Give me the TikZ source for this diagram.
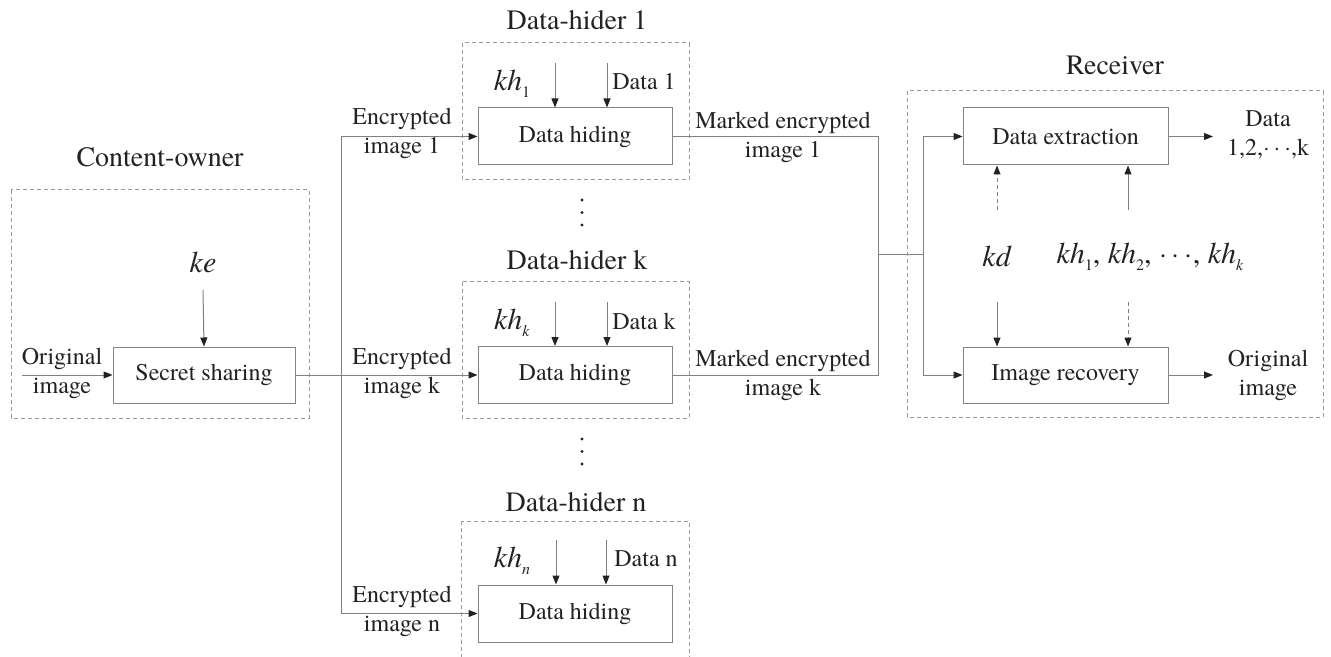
\documentclass[tikz,border=0pt]{standalone}
\usepackage{fontspec}
\setmainfont{texgyretermes}[Extension=.otf, UprightFont=*-regular, ItalicFont=*-italic, BoldFont=*-bold, BoldItalicFont=*-bolditalic]
\usetikzlibrary{arrows.meta}
\definecolor{boxgray}{HTML}{858585}
\definecolor{dashgray}{HTML}{9A9A9A}
\definecolor{linegray}{HTML}{808080}
\definecolor{tipcol}{HTML}{222222}
\definecolor{txt}{HTML}{222222}
\newcommand{\khsub}[1]{\textit{kh}\raisebox{-0.5ex}{\fontsize{8}{9}\selectfont #1}}
\begin{document}
\begin{tikzpicture}[x=0.5pt,y=-0.5pt,
  every node/.style={text=txt},
  box/.style={draw=boxgray, line width=0.5pt, minimum width=97pt, minimum height=28.5pt, inner sep=0pt, font=\fontsize{12}{14}\selectfont},
  dbox/.style={draw=dashgray, dash pattern=on 2pt off 1.5pt, line width=0.5pt},
  lbl/.style={align=center, font=\fontsize{12}{14.5}\selectfont, inner sep=0pt},
  ttl/.style={font=\fontsize{14}{16}\selectfont, inner sep=0pt},
  keyl/.style={font=\fontsize{15}{17}\selectfont, inner sep=0pt},
  conn/.style={draw=linegray, line width=0.5pt},
  arr/.style={conn, -{Triangle[length=4.5pt,width=3.5pt,color=tipcol]}},
  darr/.style={arr, dash pattern=on 2pt off 1.5pt},
  dotc/.style={fill=txt, draw=none, circle, inner sep=0pt, minimum size=1.7pt}
]
\useasboundingbox (0,0) rectangle (1331,657);

% ---------------- Content-owner ----------------
\node[ttl] (cot) at (160,157) {Content-owner};
\draw[dbox] (11,190) rectangle (309,418);
\node[box, minimum width=91pt, minimum height=28pt] (ss) at (204,375) {Secret sharing};
\node[keyl] (ke) at (203,262) {\textit{ke}};
\coordinate (ketail) at (203,290);
\draw[arr] (ketail) -- (ss.north);
\node[lbl] (orig) at (62,373) {Original\\image};
\coordinate (origtail) at (22,375);
\draw[arr] (origtail) -- (ss.west);

% ---------------- Data-hider 1 ----------------
\node[ttl] (t1) at (577,20) {Data-hider 1};
\draw[dbox] (462,43) rectangle (689,180);
\node[box] (dh1) at (575,136.5) {Data hiding};
\node[keyl] (kh1) at (512,84) {\khsub{1}};
\node[lbl, anchor=west] (d1) at (612,82) {Data 1};
\coordinate (a1a) at (555,63);
\coordinate (a1b) at (607,63);
\draw[arr] (a1a) -- (a1a |- dh1.north);
\draw[arr] (a1b) -- (a1b |- dh1.north);

\node[dotc] (dots1a) at (582,200) {};
\node[dotc] (dots1b) at (582,212.5) {};
\node[dotc] (dots1c) at (582,225) {};

% ---------------- Data-hider k ----------------
\node[ttl] (tk) at (577,260) {Data-hider k};
\draw[dbox] (462,282) rectangle (689,418);
\node[box] (dhk) at (575,375) {Data hiding};
\node[keyl] (khk) at (512,323) {\khsub{\textit{k}}};
\node[lbl, anchor=west] (dk) at (612,321) {Data k};
\coordinate (aka) at (555,302);
\coordinate (akb) at (607,302);
\draw[arr] (aka) -- (aka |- dhk.north);
\draw[arr] (akb) -- (akb |- dhk.north);

\node[dotc] (dots2a) at (582,439) {};
\node[dotc] (dots2b) at (582,451.5) {};
\node[dotc] (dots2c) at (582,464) {};

% ---------------- Data-hider n ----------------
\node[ttl] (tn) at (576,502) {Data-hider n};
\draw[dbox] (461,521) rectangle (689,662);
\node[box] (dhn) at (575,613.5) {Data hiding};
\node[keyl] (khn) at (512,561) {\khsub{\textit{n}}};
\node[lbl, anchor=west] (dn) at (614,559) {Data n};
\coordinate (ana) at (556,540);
\coordinate (anb) at (606,540);
\draw[arr] (ana) -- (ana |- dhn.north);
\draw[arr] (anb) -- (anb |- dhn.north);

% ---------------- Distribution bus ----------------
\coordinate (bt) at (341,136.5);
\coordinate (bb) at (341,613.5);
\draw[conn] (bt) -- (bb);
\draw[arr] (bt) -- (dh1.west);
\draw[arr] (bb) -- (dhn.west);
\draw[arr] (ss.east) -- (dhk.west);
\node[lbl] (e1) at (402,133) {Encrypted\\image 1};
\node[lbl] (ek) at (402,373) {Encrypted\\image k};
\node[lbl] (en) at (402,611) {Encrypted\\image n};

% ---------------- Marked images ----------------
\node[lbl] (m1) at (783,137) {Marked encrypted\\image 1};
\node[lbl] (mk) at (783,375) {Marked encrypted\\image k};
\coordinate (mr) at (878,255);
\coordinate (rb) at (923,255);
\draw[conn] (dh1.east) -| (mr) |- (dhk.east);
\draw[conn] (mr) -- (rb);

% ---------------- Receiver ----------------
\node[ttl] (tr) at (1115,65) {Receiver};
\draw[dbox] (907,91) rectangle (1323,417);
\node[box, minimum width=102.5pt] (dx) at (1065.5,136.5) {Data extraction};
\node[box, minimum width=102.5pt, minimum height=28pt] (ir) at (1065.5,375) {Image recovery};
\draw[arr] (rb) |- (dx.west);
\draw[arr] (rb) |- (ir.west);

\coordinate (dxo) at (1213,136.5);
\coordinate (iro) at (1213,375);
\draw[arr] (dx.east) -- (dxo);
\draw[arr] (ir.east) -- (iro);
\node[lbl] (dout) at (1268,135) {Data\\1,2,$\cdots$,k};
\node[lbl] (oout) at (1268,375) {Original\\image};

\node[keyl] (kd) at (997,256) {\textit{kd}};
\node[keyl] (khl) at (1150,257) {\khsub{1}, \khsub{2}, $\cdots$, \khsub{\textit{k}}};
\coordinate (kdu) at (997,210);
\coordinate (kdd) at (997,302);
\coordinate (khu) at (1128,210);
\coordinate (khd) at (1128,302);
\draw[darr] (kdu) -- (kdu |- dx.south);
\draw[arr] (kdd) -- (kdd |- ir.north);
\draw[arr] (khu) -- (khu |- dx.south);
\draw[darr] (khd) -- (khd |- ir.north);
\end{tikzpicture}
\end{document}
